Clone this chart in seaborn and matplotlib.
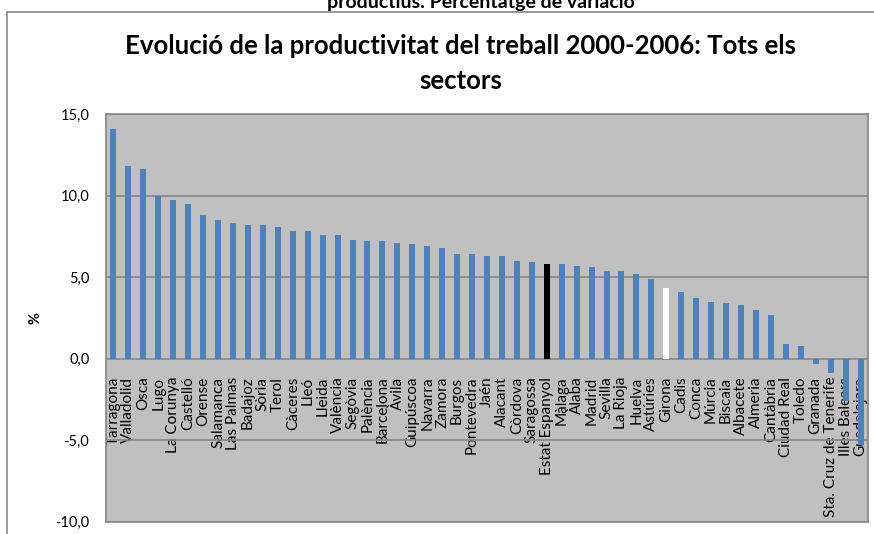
import matplotlib
matplotlib.use("Agg")
import matplotlib.pyplot as plt
import matplotlib.patches as mpatches
import pandas as pd
import seaborn as sns

# Provinces, sorted as in the chart
provinces = [
    "Tarragona", "Valladolid", "Osca", "Lugo", "La Corunya", "Castelló", "Orense",
    "Salamanca", "Las Palmas", "Badajoz", "Sòria", "Terol", "Càceres", "Lleó",
    "Lleida", "València", "Segòvia", "Palència", "Barcelona", "Àvila", "Guipúscoa",
    "Navarra", "Zamora", "Burgos", "Pontevedra", "Jaén", "Alacant", "Còrdova",
    "Saragossa", "Estat Espanyol", "Màlaga", "Àlaba", "Madrid", "Sevilla",
    "La Rioja", "Huelva", "Astúries", "Girona", "Cadis", "Conca", "Múrcia",
    "Biscaia", "Albacete", "Almeria", "Cantàbria", "Ciudad Real", "Toledo",
    "Granada", "Sta. Cruz de Tenerife", "Illes Balears", "Guadalajara",
]

# % change of labour productivity 2000-2006
variation = [
    14.1, 11.8, 11.6, 10.0, 9.7, 9.5, 8.8,
    8.5, 8.3, 8.2, 8.2, 8.1, 7.8, 7.8,
    7.6, 7.6, 7.3, 7.2, 7.2, 7.1, 7.0,
    6.9, 6.8, 6.4, 6.4, 6.3, 6.3,
    6.0, 5.9, 5.8, 5.8, 5.7, 5.6, 5.4,
    5.4, 5.2, 4.9, 4.3, 4.1, 3.7, 3.5,
    3.4, 3.3, 3.0, 2.7, 0.9, 0.8,
    -0.3, -0.9, -2.6, -5.3,
]

y_ticks = [-10, -5, 0, 5, 10, 15]

df = pd.DataFrame({"provincia": provinces, "variacio": variation})

# highlight Spain (black) and Girona (white)
palette = {p: "#4F81BD" for p in provinces}
palette["Estat Espanyol"] = "#000000"
palette["Girona"] = "#FFFFFF"

sns.set_style("white")
plt.rcParams["font.family"] = ["Lato", "DejaVu Sans"]
plt.rcParams["text.color"] = "black"
plt.rcParams["axes.labelcolor"] = "black"

fig = plt.figure(figsize=(8.74, 5.34), dpi=100)
ax = fig.add_axes([106 / 874, 12.3 / 534, 762 / 874, 407.7 / 534])
ax.set_facecolor("#C0C0C0")

sns.barplot(
    data=df, x="provincia", y="variacio", hue="provincia",
    palette=palette, width=0.4, legend=False, saturation=1, ax=ax, zorder=3,
    linewidth=0, edgecolor="none",
)

ax.set_ylim(-10, 15)
ax.set_yticks(y_ticks)
ax.set_yticklabels([f"{t:.1f}".replace(".", ",") for t in y_ticks])
ax.tick_params(axis="y", length=0, pad=12, labelsize=10.5, colors="black")
ax.grid(axis="y", color="#868686", linewidth=1.2, zorder=1)
ax.set_axisbelow(True)
ax.tick_params(axis="x", bottom=False, labelbottom=False)
ax.set_xlabel("")
ax.set_ylabel("%", fontsize=10.5, fontweight="bold", labelpad=9)
for s in ax.spines.values():
    s.set_color("#868686")
    s.set_linewidth(1.2)

# category labels hang from the zero line
sec = ax.secondary_xaxis(0.4)
sec.set_xticks(range(len(provinces)), labels=provinces)
sec.tick_params(length=0, pad=13, labelsize=11, labelrotation=90, colors="black")
sec.spines["bottom"].set_visible(False)

fig.text(0.527, 0.882, "Evolució de la productivitat del treball 2000-2006: Tots els\nsectors",
         ha="center", va="center", fontsize=18.5, fontweight="bold", linespacing=1.55)
fig.text(0.55, 0.995, "productius. Percentatge de variació",
         ha="center", va="center", fontsize=14, fontweight="bold")

# outer chart frame
fig.patches.append(mpatches.Rectangle((7 / 874, -0.1), 1.0, 1 - 12 / 534 + 0.1,
                                      transform=fig.transFigure, fill=False,
                                      edgecolor="#868686", linewidth=1.2))

fig.savefig("out.png", dpi=100)
